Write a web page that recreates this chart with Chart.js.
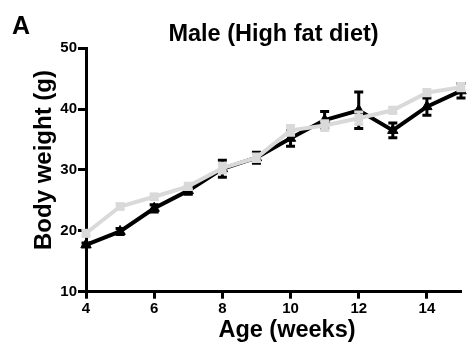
<!DOCTYPE html>
<html>
<head>
<meta charset="utf-8">
<script src="https://cdn.jsdelivr.net/npm/chart.js@4/dist/chart.umd.min.js"></script>
<style>
  html, body { margin: 0; padding: 0; background: #fff; }
  #wrap { width: 468px; height: 348px; }
</style>
</head>
<body>
<div id="wrap"><canvas id="c" width="468" height="348"></canvas></div>
<script>
// Body weight of male mice on a high fat diet, mean ± SEM per week of age
const weeks = [4, 5, 6, 7, 8, 9, 10, 11, 12, 13, 14, 15];
const greyWeight = [19.6, 24.0, 25.6, 27.3, 30.3, 32.0, 36.5, 37.3, 38.5, 39.8, 42.7, 43.6];
const greySem    = [0.5, 0.4, 0.4, 0.5, 0.8, 0.6, 0.8, 0.8, 1.0, 0.5, 0.5, 0.6];
const blackWeight = [17.7, 19.9, 23.7, 26.6, 30.2, 32.0, 35.2, 38.2, 39.8, 36.5, 40.4, 43.0];
const blackSem    = [0.3, 0.5, 0.6, 0.6, 1.4, 0.9, 1.3, 1.4, 3.0, 1.2, 1.4, 1.2];
const xTickValues = [4, 6, 8, 10, 12, 14];
const yTickValues = [10, 20, 30, 40, 50];

const FONT = '"Liberation Sans", Arial, Helvetica, sans-serif';
const GREY = '#d9d9d9';

const toPoints = (vals) => weeks.map((w, i) => ({ x: w, y: vals[i] }));

// Vertical error bars with caps, drawn right after their own series
const errorBars = {
  id: 'errorBars',
  afterDatasetDraw(chart, args) {
    const ds = chart.data.datasets[args.index];
    if (!ds.sem) return;
    const { ctx, scales: { x, y } } = chart;
    const cap = 4.5;
    ctx.save();
    ctx.strokeStyle = ds.borderColor;
    ctx.lineWidth = 3;
    ds.data.forEach((p, i) => {
      const px = x.getPixelForValue(p.x);
      const top = y.getPixelForValue(p.y + ds.sem[i]);
      const bot = y.getPixelForValue(p.y - ds.sem[i]);
      ctx.beginPath();
      ctx.moveTo(px, top); ctx.lineTo(px, bot);
      ctx.moveTo(px - cap, top); ctx.lineTo(px + cap, top);
      ctx.moveTo(px - cap, bot); ctx.lineTo(px + cap, bot);
      ctx.stroke();
    });
    ctx.restore();
  }
};

// Panel letter and axis titles
const labels = {
  id: 'labels',
  afterDraw(chart) {
    const { ctx } = chart;
    ctx.save();
    ctx.fillStyle = '#000';
    ctx.font = 'bold 25px ' + FONT;
    ctx.textAlign = 'left';
    ctx.textBaseline = 'alphabetic';
    ctx.fillText('A', 12, 34);

    ctx.font = 'bold 23.5px ' + FONT;
    ctx.textAlign = 'center';
    ctx.textBaseline = 'middle';
    ctx.fillText('Age (weeks)', 287, 331);

    ctx.font = 'bold 24px ' + FONT;
    ctx.translate(44, 160);
    ctx.rotate(-Math.PI / 2);
    ctx.fillText('Body weight (g)', 0, 0);
    ctx.restore();
  }
};

new Chart(document.getElementById('c'), {
  type: 'line',
  data: {
    datasets: [
      {
        data: toPoints(greyWeight),
        sem: greySem,
        borderColor: GREY,
        backgroundColor: GREY,
        borderWidth: 4,
        pointStyle: 'rect',
        pointRadius: 6,
        pointBorderWidth: 0,
        tension: 0,
        clip: false
      },
      {
        data: toPoints(blackWeight),
        sem: blackSem,
        borderColor: '#000',
        backgroundColor: '#000',
        borderWidth: 4,
        pointStyle: 'triangle',
        pointRadius: 6,
        pointBorderWidth: 1,
        tension: 0,
        clip: false
      }
    ]
  },
  options: {
    responsive: false,
    animation: false,
    devicePixelRatio: 1,
    layout: { padding: { left: 0, right: 4, top: 0, bottom: 0 } },
    plugins: {
      legend: { display: false },
      tooltip: { enabled: false },
      title: {
        display: true,
        text: 'Male (High fat diet)',
        fullSize: false,
        color: '#000',
        font: { family: FONT, size: 23.5, weight: 'bold' },
        padding: { top: 20, bottom: 0 }
      }
    },
    scales: {
      x: {
        type: 'linear',
        position: 'bottom',
        min: 4,
        max: 15,
        afterBuildTicks: (s) => { s.ticks = xTickValues.map(v => ({ value: v })); },
        afterFit: (s) => { s.height = 56.3; },
        border: { display: true, width: 3, color: '#000' },
        grid: { display: true, drawOnChartArea: false, drawTicks: true, tickLength: 7, tickWidth: 3, tickColor: '#000', color: '#000' },
        ticks: { color: '#000', font: { family: FONT, size: 15, weight: 'bold' }, padding: 1, maxRotation: 0 }
      },
      y: {
        type: 'linear',
        position: 'left',
        min: 10,
        max: 50,
        afterBuildTicks: (s) => { s.ticks = yTickValues.map(v => ({ value: v })); },
        afterFit: (s) => { s.width = 86; },
        border: { display: true, width: 3, color: '#000' },
        grid: { display: true, drawOnChartArea: false, drawTicks: true, tickLength: 8, tickWidth: 3, tickColor: '#000', color: '#000' },
        ticks: { color: '#000', font: { family: FONT, size: 15, weight: 'bold' }, padding: 1 }
      }
    }
  },
  plugins: [errorBars, labels]
});
</script>
</body>
</html>
